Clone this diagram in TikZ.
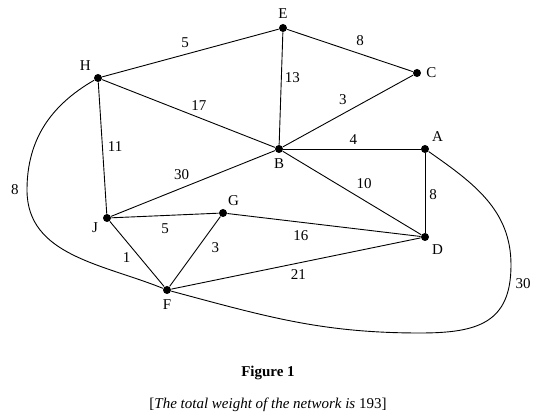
\documentclass[tikz,border=0pt]{standalone}
\usepackage{fontspec}
\setmainfont{Liberation Serif}
\usetikzlibrary{positioning}
\tikzset{vertex/.style={circle,fill,inner sep=0pt,minimum size=8pt}}
\tikzset{wt/.style={inner sep=2pt}}

\begin{document}
\begin{tikzpicture}[x=1pt,y=1pt,line width=0.9pt,font=\fontsize{15}{18}\selectfont,
  every label/.style={inner sep=1.5pt},label distance=3pt,on grid]
\useasboundingbox (0,0) rectangle (535,417);
\node[vertex,label=above:E] (E) at (283,389) {};
\node[vertex,label=right:C,below right=45pt and 134pt of E] (C) {};
\node[vertex,label=above left:H,below left=50pt and 185pt of E] (H) {};
\node[vertex,label=below:B,below=121pt of E,xshift=-4pt] (B) {};
\node[vertex,label=above right:A,right=146pt of B] (A) {};
\node[vertex,label=below right:D,below=88pt of A] (D) {};
\node[vertex,label=200:J,below=140pt of H,xshift=9pt] (J) {};
\node[vertex,label={[xshift=-2pt]above right:G},right=116pt of J,yshift=5pt] (G) {};
\node[vertex,label=below:F,below right=72pt and 60pt of J] (F) {};
\coordinate (hl) at (27,227);
\coordinate (ar) at (511,152);
\coordinate (ab) at (420,84);
\path (H) edge node[wt,pos=0.47,above=4pt] {5} (E);
\path (E) edge node[wt,pos=0.58,above=6pt] {8} (C);
\path (E) edge node[wt,pos=0.4,right=1pt] {13} (B);
\path (H) edge node[wt,pos=0.56,above=4.5pt] {17} (B);
\path (B) edge node[wt,pos=0.46,above=7pt] {3} (C);
\path (H) edge node[wt,pos=0.49,right=3pt] {11} (J);
\path (B) edge node[wt,pos=0.51,above=2pt] {4} (A);
\path (J) edge node[wt,pos=0.43,above=6pt] {30} (B);
\path (B) edge node[wt,pos=0.5,above right=3pt] {10} (D);
\path (A) edge node[wt,pos=0.52,right=2pt] {8} (D);
\path (J) edge node[wt,pos=0.5,below=5.5pt] {5} (G);
\path (G) edge node[wt,pos=0.38,below=6pt] {16} (D);
\path (G) edge node[wt,pos=0.29,below right=5pt] {3} (F);
\path (J) edge node[wt,pos=0.56,left=7.5pt] {1} (F);
\path (F) edge node[wt,pos=0.51,below=4pt] {21} (D);
% the two long curves
\draw (H) to[out=210,in=90] node[wt,pos=1,left=6pt] {8} (hl) to[out=-90,in=158] (F);
\draw (A) to[out=-35,in=90] (ar) to[out=-90,in=0,looseness=1.3] node[wt,pos=0.12,right=3.5pt] {30} (ab)
  to[out=180,in=-15] (F);
\node (fig) at (268,44) {\textbf{Figure 1}};
\node (note) at (268,12) {[\textit{The total weight of the network is} 193]};
\end{tikzpicture}
\end{document}
